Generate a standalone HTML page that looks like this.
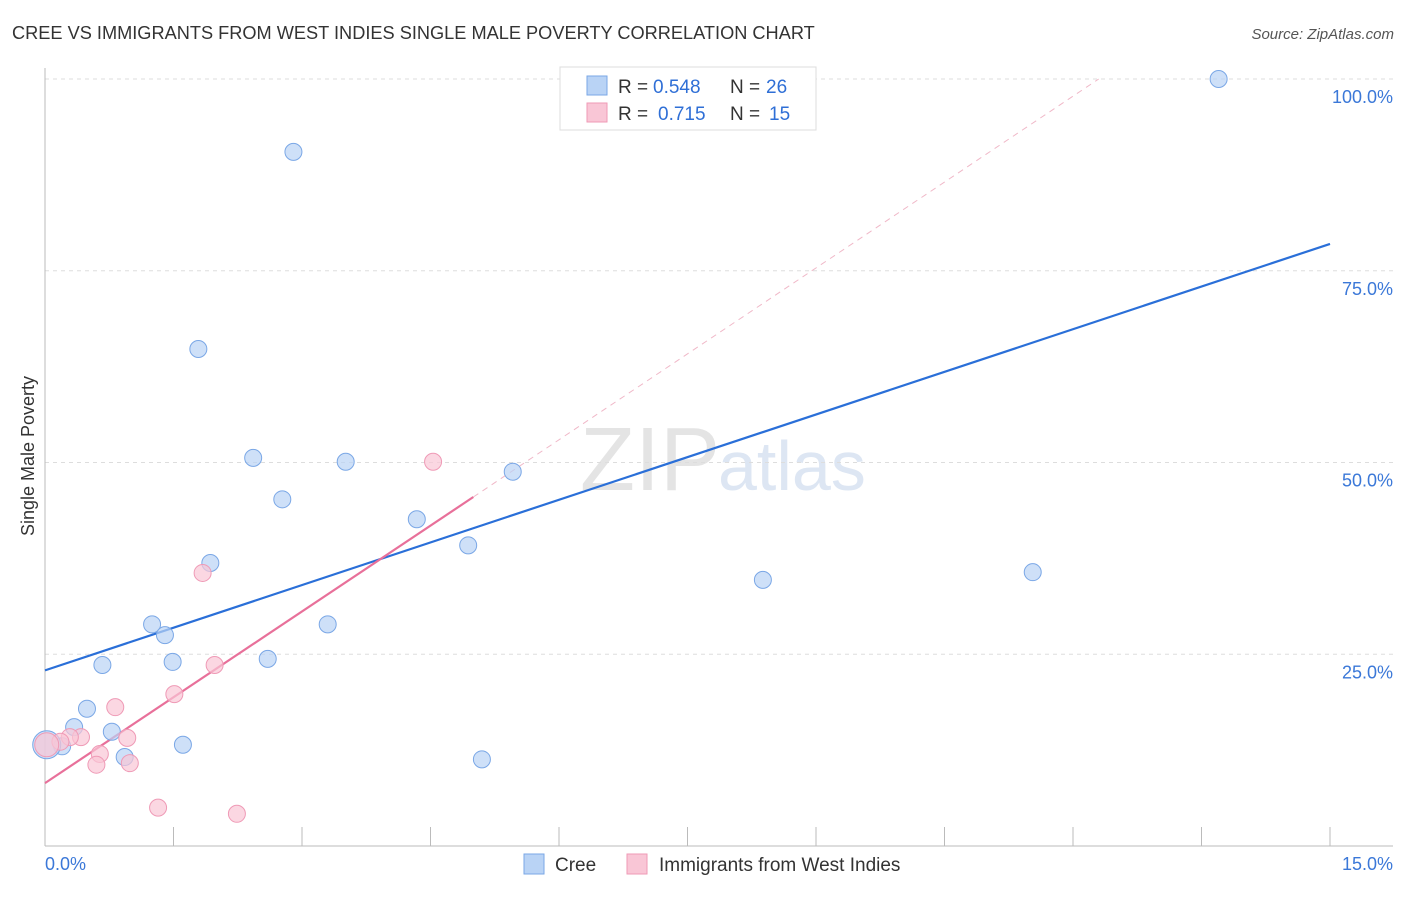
<!DOCTYPE html>
<html><head><meta charset="utf-8"><style>
body{margin:0;background:#fff;font-family:"Liberation Sans",sans-serif}
svg text{font-family:"Liberation Sans",sans-serif}
</style></head><body>
<svg width="1406" height="892">
<text x="12" y="39" font-size="18.2" fill="#333">CREE VS IMMIGRANTS FROM WEST INDIES SINGLE MALE POVERTY CORRELATION CHART</text>
<text x="1394" y="39" font-size="15" fill="#555" font-style="italic" text-anchor="end">Source: ZipAtlas.com</text>
<text x="720" y="490" font-size="90" fill="#e4e4e4" text-anchor="end" font-family="Liberation Serif">ZIP</text>
<text x="718" y="490" font-size="70" fill="#dde6f3">atlas</text>
<g id="grid"></g><g id="axes"></g><g id="lines"></g><g id="pts"></g>
<text x="34" y="456" font-size="18" fill="#333" text-anchor="middle" transform="rotate(-90 34 456)">Single Male Poverty</text>
<g>
<rect x="560" y="67" width="256" height="63" fill="#fff" stroke="#ddd"/>
<rect x="587" y="76" width="20" height="19" fill="#b9d3f5" stroke="#7aa7e6"/>
<rect x="587" y="103" width="20" height="19" fill="#f9c6d6" stroke="#ef9ab6"/>
<text y="93" font-size="19" fill="#333"><tspan x="618">R =</tspan><tspan x="653" fill="#2f6fd6">0.548</tspan><tspan x="730">N =</tspan><tspan x="766" fill="#2f6fd6">26</tspan></text>
<text y="120" font-size="19" fill="#333"><tspan x="618">R =</tspan><tspan x="658" fill="#2f6fd6">0.715</tspan><tspan x="730">N =</tspan><tspan x="769" fill="#2f6fd6">15</tspan></text>
</g>
<g>
<rect x="524" y="854" width="20" height="20" fill="#b9d3f5" stroke="#7aa7e6"/>
<text x="555" y="871" font-size="19" fill="#333">Cree</text>
<rect x="627" y="854" width="20" height="20" fill="#f9c6d6" stroke="#ef9ab6"/>
<text x="659" y="871" font-size="19" fill="#333">Immigrants from West Indies</text>
</g>
</svg>
<script>
const yTicks=[100,75,50,25];
const yTickLabels=["100.0%","75.0%","50.0%","25.0%"];
const xTickLabels=["0.0%","15.0%"];
const creeX=[13.7,2.9,1.79,2.43,3.51,2.77,4.34,5.46,4.94,8.38,11.53,1.93,1.25,1.40,3.30,0.67,1.49,2.60,0.49,0.34,0.78,1.61,0.93,5.10,0.2,0.02];
const creeY=[100,90.5,64.8,50.6,50.1,45.2,42.6,48.8,39.2,34.7,35.7,36.9,28.9,27.5,28.9,23.6,24.0,24.4,17.9,15.5,14.9,13.2,11.6,11.3,13.0,13.2];
const wiX=[4.53,1.84,1.98,1.51,0.82,0.42,0.29,0.96,0.64,0.6,0.99,1.32,2.24,0.18,0.02];
const wiY=[50.1,35.6,23.6,19.8,18.1,14.2,14.2,14.1,12.0,10.6,10.8,5.0,4.2,13.6,13.2];
const creeLine=[[0,22.9],[15,78.5]];
const wiLine=[[0,8.2],[5.0,45.5]];
const wiDash=[[5.0,45.5],[12.3,100]];
const X=v=>45+v/15*1285, Y=v=>846-v*7.67;
const NS="http://www.w3.org/2000/svg";
function mk(p,tag,a){const e=document.createElementNS(NS,tag);for(const k in a)e.setAttribute(k,a[k]);document.getElementById(p).appendChild(e);return e;}
yTicks.forEach((t,i)=>{
 const g=mk('grid','line',{x1:45,x2:1393,y1:Y(t),y2:Y(t),stroke:'#ddd','stroke-dasharray':'4,4'});
 
 
 const l=mk('axes','text',{x:1393,y:Y(t)+24,'font-size':18,fill:'#3b78d8','text-anchor':'end'});
 l.textContent=yTickLabels[i];
 
 
});
const ax=mk('axes','line',{x1:45,x2:1393,y1:846,y2:846,stroke:'#bbb'});


const ay=mk('axes','line',{x1:45,x2:45,y1:68,y2:846,stroke:'#bbb'});


for(let i=0;i<=10;i++){const t=mk('axes','line',{x1:X(i*1.5),x2:X(i*1.5),y1:827,y2:846,stroke:'#bbb'});
 
 }
[[0,45,'start'],[1,1393,'end']].forEach(([i,x,a])=>{const l=mk('axes','text',{x:x,y:870,'font-size':18,fill:'#3b78d8','text-anchor':a});l.textContent=xTickLabels[i];
 
 });
function ln(d,c,w,dash,name){const e=mk('lines','line',{x1:X(d[0][0]),y1:Y(d[0][1]),x2:X(d[1][0]),y2:Y(d[1][1]),stroke:c,'stroke-width':w});if(dash)e.setAttribute('stroke-dasharray',dash);
 
 }
ln(wiDash,'#f0b8c8',1,'6,5','west-indies-trend-extension');
ln(creeLine,'#2a6fd8',2.2,null,'cree-trend-line');
ln(wiLine,'#e8709a',2.2,null,'west-indies-trend-line');
creeX.forEach((x,i)=>{const c=mk('pts','circle',{cx:X(x),cy:Y(creeY[i]),r:i==25?14:8.5,fill:'#b9d3f5','fill-opacity':0.7,stroke:'#7aa7e6'});
 
 });
wiX.forEach((x,i)=>{const c=mk('pts','circle',{cx:X(x),cy:Y(wiY[i]),r:i==14?12:8.5,fill:'#f9c6d6','fill-opacity':0.7,stroke:'#ef9ab6'});
 
 });
</script>
</body></html>
